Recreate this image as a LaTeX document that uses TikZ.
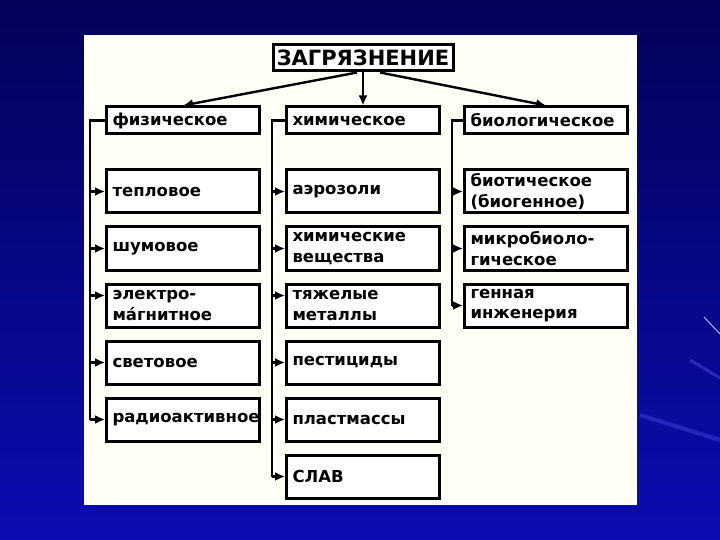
\documentclass[tikz,border=0pt]{standalone}
\usepackage{fontspec}
\setmainfont{DejaVu Sans}
\usetikzlibrary{arrows.meta,positioning}
\definecolor{slidedark}{RGB}{2,2,88}
\definecolor{slideblue}{RGB}{12,12,178}
\definecolor{paper}{HTML}{FFFFF8}
\tikzstyle{titlebox} = [rectangle, draw=black, line width=3pt, fill=white,
    minimum width=180pt, minimum height=26pt, inner sep=2pt, font=\fontsize{21}{24}\selectfont\bfseries]
\tikzstyle{catbox} = [rectangle, draw=black, line width=3pt, fill=white, text width=141pt,
    align=left, minimum height=27pt, inner xsep=6pt, inner ysep=2pt, font=\fontsize{16.5}{20.5}\selectfont\bfseries]
\tikzstyle{subbox} = [catbox, minimum height=43pt]
\tikzstyle{bus} = [line width=2.4pt, black]
\tikzstyle{arrow} = [-{Latex[length=10pt,width=9pt]}, line width=2.4pt, black]

\begin{document}
\begin{tikzpicture}[x=1pt, y=-1pt, node distance=11pt]
\useasboundingbox (0,0) rectangle (720,540);
% slide background
\shade[top color=slidedark, bottom color=slideblue] (0,0) rectangle (720,540);
\draw[white!70!blue, line width=1pt] (704,317) -- (720,334);
\draw[blue!60!white, opacity=0.35, line width=3pt] (690,360) -- (720,378);
\draw[blue!60!white, opacity=0.3, line width=4pt] (640,415) -- (720,440);
\fill[paper] (84,35) rectangle (637,505);

\node[titlebox] (zag) at (363,58) {ЗАГРЯЗНЕНИЕ};
\node[catbox, below=33pt of zag] (him) {химическое};
\node[catbox, left=24pt of him] (fiz) {физическое};
\node[catbox, right=22pt of him, text width=151pt] (bio) {биологическое};

\draw[arrow] ([xshift=-6pt]zag.south) -- (fiz.north);
\draw[arrow] (zag.south) -- (him.north);
\draw[arrow] ([xshift=17pt]zag.south) -- (bio.north);

% physical
\node[subbox, below=33pt of fiz] (teplo) {тепловое};
\node[subbox, below=of teplo] (shum) {шумовое};
\node[subbox, below=of shum] (elmag) {электро-\\ма́гнитное};
\node[subbox, below=of elmag] (svet) {световое};
\node[subbox, below=of svet] (radio) {радиоактивное};

% chemical
\node[subbox, below=33pt of him] (aero) {аэрозоли};
\node[subbox, below=of aero] (himvesh) {химические\\вещества};
\node[subbox, below=of himvesh] (tyazh) {тяжелые\\металлы};
\node[subbox, below=of tyazh] (pest) {пестициды};
\node[subbox, below=of pest] (plast) {пластмассы};
\node[subbox, below=of plast] (slav) {СЛАВ};

% biological
\node[subbox, below=33pt of bio, text width=151pt] (biot) {биотическое\\(биогенное)};
\node[subbox, below=of biot, text width=151pt] (mikro) {микробиоло-\\гическое};
\node[subbox, below=of mikro, text width=151pt] (gen) {генная\\инженерия};

\coordinate (fizbus) at ([xshift=-15pt]fiz.west);
\coordinate (himbus) at ([xshift=-13pt]him.west);
\coordinate (biobus) at ([xshift=-11pt]bio.west);
\coordinate (elmagin) at ([yshift=10pt]elmag.west);
\coordinate (tyazhin) at ([yshift=10pt]tyazh.west);

\draw[bus] (fiz.west) -- (fizbus) -- (fizbus |- radio.west);
\draw[bus] (him.west) -- (himbus) -- (himbus |- slav.west);
\draw[bus] (bio.west) -- (biobus) -- (biobus |- gen.west);

\foreach \n in {teplo,shum,svet,radio}
  \draw[arrow] (fizbus |- \n.west) -- (\n.west);
\draw[arrow] (fizbus |- elmagin) -- (elmagin);
\foreach \n in {aero,himvesh,pest,plast,slav}
  \draw[arrow] (himbus |- \n.west) -- (\n.west);
\draw[arrow] (himbus |- tyazhin) -- (tyazhin);
\foreach \n in {biot,mikro,gen}
  \draw[arrow] (biobus |- \n.west) -- (\n.west);
\end{tikzpicture}
\end{document}
